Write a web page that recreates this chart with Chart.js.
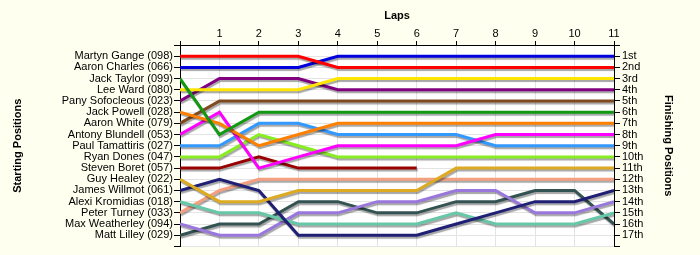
<!DOCTYPE html>
<html>
<head>
<meta charset="utf-8">
<script src="https://cdn.jsdelivr.net/npm/chart.js@4.4.0/dist/chart.umd.min.js"></script>
<style>
  body { margin: 0; background: #fffff0; }
</style>
</head>
<body>
<canvas id="lapChart" width="700" height="255"></canvas>
<script>
// vueltas y nombres
var laps = [0, 1, 2, 3, 4, 5, 6, 7, 8, 9, 10, 11];
var starters = ['Martyn Gange (098)', 'Aaron Charles (066)', 'Jack Taylor (099)', 'Lee Ward (080)',
  'Pany Sofocleous (023)', 'Jack Powell (028)', 'Aaron White (079)', 'Antony Blundell (053)',
  'Paul Tamattiris (027)', 'Ryan Dones (047)', 'Steven Boret (057)', 'Guy Healey (022)',
  'James Willmot (061)', 'Alexi Kromidias (018)', 'Peter Turney (033)', 'Max Weatherley (094)',
  'Matt Lilley (029)'];
var finishers = ['1st', '2nd', '3rd', '4th', '5th', '6th', '7th', '8th', '9th', '10th',
  '11th', '12th', '13th', '14th', '15th', '16th', '17th'];

// posicion de cada piloto en cada vuelta
var gange      = [1, 1, 1, 1, 2, 2, 2, 2, 2, 2, 2, 2];
var charles    = [2, 2, 2, 2, 1, 1, 1, 1, 1, 1, 1, 1];
var taylor     = [3, 8, 6, 6, 6, 6, 6, 6, 6, 6, 6, 6];
var ward       = [4, 4, 4, 4, 3, 3, 3, 3, 3, 3, 3, 3];
var sofocleous = [5, 3, 3, 3, 4, 4, 4, 4, 4, 4, 4, 4];
var powell     = [6, 7, 9, 8, 7, 7, 7, 7, 7, 7, 7, 7];
var white      = [7, 5, 5, 5, 5, 5, 5, 5, 5, 5, 5, 5];
var blundell   = [8, 6, 11, 10, 9, 9, 9, 9, 8, 8, 8, 8];
var tamattiris = [9, 9, 7, 7, 8, 8, 8, 8, 9, 9, 9, 9];
var dones      = [10, 10, 8, 9, 10, 10, 10, 10, 10, 10, 10, 10];
var boret      = [11, 11, 10, 11, 11, 11, 11];
var healey     = [12, 14, 14, 13, 13, 13, 13, 11, 11, 11, 11, 11];
var willmot    = [13, 12, 13, 17, 17, 17, 17, 16, 15, 14, 14, 13];
var kromidias  = [14, 15, 15, 16, 16, 16, 16, 15, 16, 16, 16, 15];
var turney     = [15, 13, 12, 12, 12, 12, 12, 12, 12, 12, 12, 12];
var weatherley = [16, 17, 17, 15, 15, 14, 14, 13, 13, 15, 15, 14];
var lilley     = [17, 16, 16, 14, 14, 15, 15, 14, 14, 13, 13, 16];

var series = [gange, charles, taylor, ward, sofocleous, powell, white, blundell, tamattiris,
  dones, boret, healey, willmot, kromidias, turney, weatherley, lilley];
var colours = ['#ff0000', '#0000dd', '#119911', '#ffe600', '#800080', '#ff8000', '#804a20',
  '#ff00ff', '#3399ff', '#88ee22', '#990000', '#ddaa22', '#1f1f75', '#66c8a8', '#f4a080',
  '#9977dd', '#335252'];

var datasets = series.map(function (s, i) {
  return {
    label: starters[i],
    data: s.map(function (p, j) { return { x: laps[j], y: p }; }),
    borderColor: colours[i],
    backgroundColor: colours[i],
    borderWidth: 3,
    pointRadius: 0,
    tension: 0,
    yAxisID: 'y'
  };
});

// fondo crema y area blanca
var fondo = {
  id: 'fondo',
  beforeDraw: function (chart) {
    var c = chart.ctx, a = chart.chartArea;
    c.save();
    c.fillStyle = '#fffff0';
    c.fillRect(0, 0, chart.width, chart.height);
    c.fillStyle = '#ffffff';
    c.fillRect(a.left, a.top, a.right - a.left, a.bottom - a.top);
    c.restore();
  }
};

// sombra bajo las lineas
var sombra = {
  id: 'sombra',
  beforeDatasetDraw: function (chart) {
    var c = chart.ctx;
    c.save();
    c.shadowColor = 'rgba(0,0,0,0.35)';
    c.shadowOffsetX = 1;
    c.shadowOffsetY = 2;
    c.shadowBlur = 1;
  },
  afterDatasetDraw: function (chart) {
    chart.ctx.restore();
  }
};

// las rejillas en los bordes no tapan los ejes negros
function gridX(c) {
  return c.tick && (c.tick.value === 0 || c.tick.value === 11) ? 'rgba(0,0,0,0)' : '#e4e4e4';
}
function gridY(c) {
  return c.tick && c.tick.value === 0 ? 'rgba(0,0,0,0)' : '#e4e4e4';
}

Chart.defaults.font.family = "'Liberation Sans', Arial, sans-serif";
Chart.defaults.font.size = 11;
Chart.defaults.color = '#000';

var ctx = document.getElementById('lapChart').getContext('2d');
var lapChart = new Chart(ctx, {
  type: 'line',
  data: { datasets: datasets },
  plugins: [fondo, sombra],
  options: {
    responsive: false,
    animation: false,
    layout: { padding: { left: 0, right: 0, top: 0, bottom: 8 } },
    plugins: { legend: { display: false }, tooltip: { enabled: false } },
    scales: {
      x: {
        type: 'linear',
        position: 'top',
        min: 0,
        max: 11,
        afterFit: function (s) { s.height = 45; },
        ticks: {
          stepSize: 1,
          padding: 0,
          callback: function (v) { return v === 0 ? '' : v; }
        },
        grid: { color: gridX, tickColor: '#000', tickLength: 4 },
        border: { color: '#000' },
        title: { display: true, text: 'Laps', font: { weight: 'bold' }, padding: { top: 9, bottom: 0 } }
      },
      y: {
        type: 'linear',
        position: 'left',
        reverse: true,
        min: 0,
        max: 18,
        afterFit: function (s) { s.width = 180; },
        ticks: {
          stepSize: 1,
          autoSkip: false,
          padding: 1,
          callback: function (v) { return starters[v - 1] || ''; }
        },
        grid: { color: gridY, tickColor: '#000', tickLength: 6 },
        border: { color: '#000' },
        title: { display: true, text: 'Starting Positions', font: { weight: 'bold' }, padding: { top: 11, bottom: 0 } }
      },
      y2: {
        type: 'linear',
        position: 'right',
        reverse: true,
        min: 0,
        max: 18,
        afterFit: function (s) { s.width = 86; },
        ticks: {
          stepSize: 1,
          autoSkip: false,
          padding: 2,
          callback: function (v) { return finishers[v - 1] || ''; }
        },
        grid: { drawOnChartArea: false, tickColor: '#000', tickLength: 6 },
        border: { color: '#000' },
        title: { display: true, text: 'Finishing Positions', font: { weight: 'bold' }, padding: { top: 25, bottom: 0 } }
      }
    }
  }
});
</script>
</body>
</html>
